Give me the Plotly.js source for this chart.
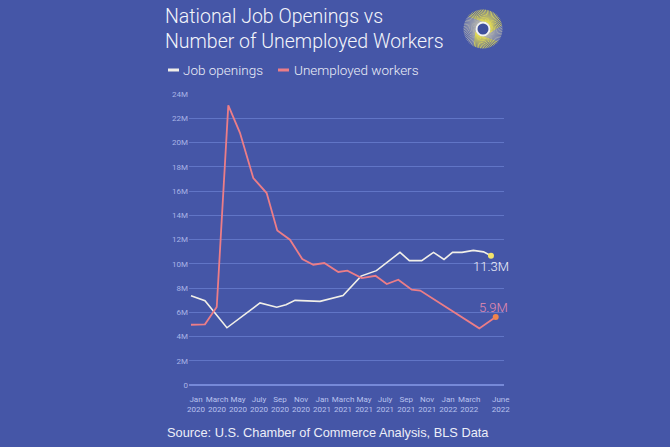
<!DOCTYPE html>
<html>
<head>
<meta charset="utf-8">
<script src="https://cdn.plot.ly/plotly-3.0.1.min.js"></script>
<style>
html,body{margin:0;padding:0;background:#4556a7;}
#chart{width:670px;height:447px;}
</style>
</head>
<body>
<div id="chart"></div>
<script>
// ---- Data (months since Jan 2020, values in millions) ----
const jobMonths = [0, 1.33, 3.42, 6.57, 8.16, 9.04, 9.90, 12.28, 14.47, 16.18, 17.65, 19.89, 20.78, 21.96, 23.08, 24.08, 24.89, 25.79, 26.87, 27.84, 28.55];
const jobOpenings = [7.37, 6.95, 4.72, 6.77, 6.42, 6.62, 6.98, 6.90, 7.37, 8.98, 9.43, 10.94, 10.26, 10.26, 10.94, 10.36, 10.94, 10.94, 11.10, 10.98, 10.66];

const unempMonths = [0, 1.33, 2.45, 3.55, 4.66, 5.93, 7.20, 8.21, 9.42, 10.59, 11.64, 12.69, 14.02, 14.88, 16.25, 17.56, 18.63, 19.73, 21.01, 21.82, 27.44, 29.0];
const unemployed = [4.97, 5.00, 6.43, 23.06, 20.80, 17.07, 15.83, 12.75, 11.98, 10.39, 9.92, 10.06, 9.32, 9.43, 8.82, 9.01, 8.33, 8.68, 7.86, 7.79, 4.67, 5.60];

const tickMonths = [0, 2, 4, 6, 8, 10, 12, 14, 16, 18, 20, 22, 24, 26, 29];
const tickLabels = ["Jan<br>2020","March<br>2020","May<br>2020","July<br>2020","Sep<br>2020","Nov<br>2020",
                    "Jan<br>2021","March<br>2021","May<br>2021","July<br>2021","Sep<br>2021","Nov<br>2021",
                    "Jan<br>2022","March<br>2022","June<br>2022"];
const yTickVals = [0, 2, 4, 6, 8, 10, 12, 14, 16, 18, 20, 22, 24];
const yTickText = ["0","2M","4M","6M","8M","10M","12M","14M","16M","18M","20M","22M","24M"];

const seriesNames = ["Job openings", "Unemployed workers"];
const endLabels = ["11.3M", "5.9M"];
const titleText = "National Job Openings vs<br>Number of Unemployed Workers";
const sourceText = "Source: U.S. Chamber of Commerce Analysis, BLS Data";

// ---- Styling ----
const BG = "#4556a7";
const JOB_COLOR = "#f1efe8";
const UNEMP_COLOR = "#ec7d87";
const JOB_DOT = "#f3e36b";
const UNEMP_DOT = "#f0844c";
const TEXT = "#eceef8";
const FONT = "Roboto";

// plot area in pixels
const L = 189, R = 504, T = 94, B = 385;
const px = x => (x - L) / (R - L);
const py = y => (B - y) / (B - T);

const traces = [
  {x: jobMonths, y: jobOpenings, type: "scatter", mode: "lines", name: seriesNames[0],
   line: {color: JOB_COLOR, width: 1.6}, hoverinfo: "skip"},
  {x: unempMonths, y: unemployed, type: "scatter", mode: "lines", name: seriesNames[1],
   line: {color: UNEMP_COLOR, width: 1.8}, hoverinfo: "skip"},
  {x: [jobMonths[jobMonths.length-1]], y: [jobOpenings[jobOpenings.length-1]], type: "scatter", mode: "markers",
   marker: {color: JOB_DOT, size: 6}, hoverinfo: "skip"},
  {x: [unempMonths[unempMonths.length-1]], y: [unemployed[unemployed.length-1]], type: "scatter", mode: "markers",
   marker: {color: UNEMP_DOT, size: 6}, hoverinfo: "skip"}
];

const annotations = [
  {text: titleText, xref: "paper", yref: "paper", x: px(163), y: py(29.5),
   xanchor: "left", yanchor: "middle", align: "left", showarrow: false,
   font: {size: 19.5, color: "#f4f5fb", family: FONT, weight: 300}},
  {text: seriesNames[0], xref: "paper", yref: "paper", x: px(181), y: py(70),
   xanchor: "left", yanchor: "middle", showarrow: false, font: {size: 13.5, color: TEXT, family: FONT, weight: 300}},
  {text: seriesNames[1], xref: "paper", yref: "paper", x: px(292), y: py(70),
   xanchor: "left", yanchor: "middle", showarrow: false, font: {size: 13.5, color: TEXT, family: FONT, weight: 300}},
  {text: endLabels[0], x: jobMonths[jobMonths.length-1], y: jobOpenings[jobOpenings.length-1],
   xref: "x", yref: "y", yshift: -11, xanchor: "center", yanchor: "middle", showarrow: false,
   font: {size: 13, color: "#eef0f8", family: FONT, weight: 300}},
  {text: endLabels[1], x: unempMonths[unempMonths.length-1], y: unemployed[unemployed.length-1],
   xref: "x", yref: "y", yshift: 10, xshift: -2, xanchor: "center", yanchor: "middle", showarrow: false,
   font: {size: 13, color: "#e78cae", family: FONT, weight: 300}},
  {text: sourceText, xref: "paper", yref: "paper",
   x: px(165), y: py(432), xanchor: "left", yanchor: "middle", showarrow: false,
   font: {size: 12.8, color: TEXT, family: "Liberation Sans"}}
];

const shapes = [
  {type: "line", xref: "paper", yref: "paper", x0: px(168), x1: px(179), y0: py(70), y1: py(70),
   line: {color: JOB_COLOR, width: 3}},
  {type: "line", xref: "paper", yref: "paper", x0: px(278), x1: px(289), y0: py(70), y1: py(70),
   line: {color: UNEMP_COLOR, width: 3}}
];

// decorative logo (sunburst swirl)
const lcx = px(483), lcy = py(29);
const N = 72;
for (let i = 0; i < N; i++) {
  const a = 2 * Math.PI * i / N;
  const a2 = a + 0.75;
  const deg = (a * 180 / Math.PI) % 360;
  const gray = (deg > 95 && deg < 200) || (deg > 275 && deg < 330);
  shapes.push({type: "line", xref: "paper", yref: "paper", xsizemode: "pixel", ysizemode: "pixel",
    xanchor: lcx, yanchor: lcy,
    x0: 7.5 * Math.cos(a), y0: 7.5 * Math.sin(a), x1: 19.5 * Math.cos(a2), y1: 19.5 * Math.sin(a2),
    line: {color: gray ? "#b8b8ae" : "#efe44e", width: 0.8}});
}
shapes.push({type: "circle", xref: "paper", yref: "paper", xsizemode: "pixel", ysizemode: "pixel",
  xanchor: lcx, yanchor: lcy, x0: -6.5, x1: 6.5, y0: -6.5, y1: 6.5,
  fillcolor: "#3f4f9c", line: {color: "#f4f4f0", width: 2}});

const layout = {
  width: 670, height: 447,
  paper_bgcolor: BG, plot_bgcolor: BG,
  margin: {l: L, r: 670 - R, t: T, b: 447 - B, pad: 0},
  showlegend: false,
  xaxis: {
    range: [-0.19, 29.79], tickmode: "array", tickvals: tickMonths, ticktext: tickLabels,
    showgrid: false, zeroline: false, showline: false, ticks: "", tickangle: 0,
    tickfont: {size: 8, color: "#b9c2ee", family: FONT}, ticklabelshift: 5, ticklabelstandoff: 8,
    fixedrange: true
  },
  yaxis: {
    range: [0, 24], tickmode: "array", tickvals: yTickVals, ticktext: yTickText,
    showgrid: true, gridcolor: "#6175c6", gridwidth: 1,
    zeroline: true, zerolinecolor: "#7689d8", zerolinewidth: 1.5,
    showline: false, ticks: "", tickfont: {size: 8, color: "#a9b4e6", family: FONT}, fixedrange: true
  },
  annotations: annotations,
  shapes: shapes
};

Plotly.newPlot("chart", traces, layout, {staticPlot: true, displayModeBar: false});
</script>
</body>
</html>
